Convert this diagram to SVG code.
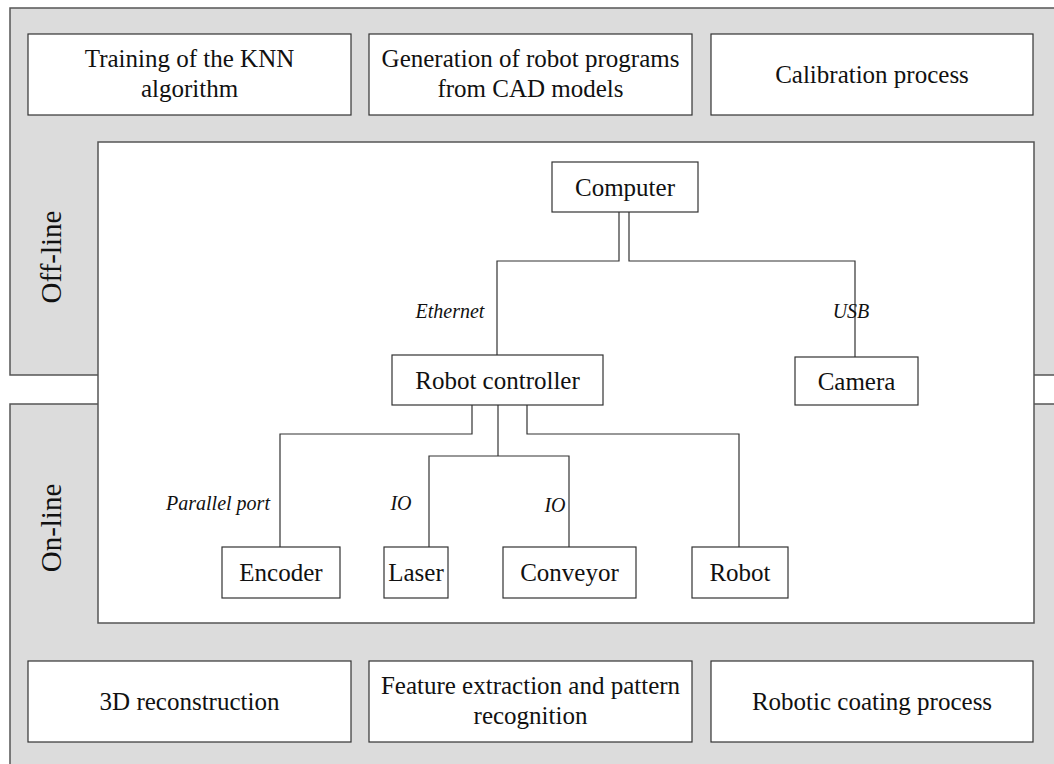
<svg xmlns="http://www.w3.org/2000/svg" width="1054" height="764" viewBox="0 0 1054 764">
<style>
.panel{fill:#dcdcdc;stroke:#555;stroke-width:1.5}
.inner{fill:#fff;stroke:#555;stroke-width:1.5}
.box{fill:#fff;stroke:#333;stroke-width:1.2}
.t{font-family:'Liberation Serif','Times New Roman',Times,Tinos,'Noto Serif','DejaVu Serif',serif;font-size:25px;fill:#111;text-anchor:middle}
.side{font-family:'Liberation Serif','Times New Roman',Times,Tinos,'Noto Serif','DejaVu Serif',serif;font-size:29px;fill:#111;text-anchor:middle}
.lbl{font-family:'Liberation Serif','Times New Roman',Times,Tinos,'Noto Serif','DejaVu Serif',serif;font-size:20px;font-style:italic;fill:#111;text-anchor:middle}
.c{fill:none;stroke:#333;stroke-width:1.2}
</style>
<rect width="1054" height="764" fill="#fff"/>
<g id="offline-panel">
<rect class="panel" x="10" y="8" width="1060" height="367"/>
<text class="side" transform="translate(61,257) rotate(-90)">Off-line</text>
</g>
<g id="online-panel">
<rect class="panel" x="10" y="404" width="1060" height="380"/>
<text class="side" transform="translate(61,528) rotate(-90)">On-line</text>
</g>
<g id="training">
<rect class="box" x="28" y="34" width="323" height="81"/>
<text class="t" x="189.5" y="67">Training of the KNN</text>
<text class="t" x="189.5" y="97">algorithm</text>
</g>
<g id="generation">
<rect class="box" x="369" y="34" width="323" height="81"/>
<text class="t" x="530.5" y="67">Generation of robot programs</text>
<text class="t" x="530.5" y="97">from CAD models</text>
</g>
<g id="calibration">
<rect class="box" x="711" y="34" width="322" height="81"/>
<text class="t" x="872" y="83">Calibration process</text>
</g>
<g id="system-panel">
<rect class="inner" x="98" y="142" width="936" height="481"/>
</g>
<g id="connectors">
<polyline class="c" points="619,212 619,261 497,261 497,355"/>
<polyline class="c" points="629,212 629,261 855,261 855,357"/>
<polyline class="c" points="472,405 472,434 280,434 280,547"/>
<polyline class="c" points="498,405 498,456"/>
<polyline class="c" points="429,547 429,456 569,456 569,547"/>
<polyline class="c" points="527,405 527,434 739,434 739,547"/>
<text class="lbl" x="450" y="318">Ethernet</text>
<text class="lbl" x="851" y="318">USB</text>
<text class="lbl" x="218" y="510">Parallel port</text>
<text class="lbl" x="401" y="510">IO</text>
<text class="lbl" x="555" y="512">IO</text>
</g>
<g id="computer">
<rect class="box" x="552" y="162" width="146" height="50"/>
<text class="t" x="625" y="196">Computer</text>
</g>
<g id="robot-controller">
<rect class="box" x="392" y="355" width="211" height="50"/>
<text class="t" x="497.5" y="389">Robot controller</text>
</g>
<g id="camera">
<rect class="box" x="795" y="357" width="123" height="48"/>
<text class="t" x="856.5" y="390">Camera</text>
</g>
<g id="encoder">
<rect class="box" x="222" y="547" width="118" height="51"/>
<text class="t" x="281" y="581">Encoder</text>
</g>
<g id="laser">
<rect class="box" x="384" y="547" width="64" height="51"/>
<text class="t" x="416" y="581">Laser</text>
</g>
<g id="conveyor">
<rect class="box" x="503" y="547" width="133" height="51"/>
<text class="t" x="569.5" y="581">Conveyor</text>
</g>
<g id="robot">
<rect class="box" x="692" y="547" width="96" height="51"/>
<text class="t" x="740" y="581">Robot</text>
</g>
<g id="reconstruction">
<rect class="box" x="28" y="661" width="323" height="81"/>
<text class="t" x="189.5" y="710">3D reconstruction</text>
</g>
<g id="feature-extraction">
<rect class="box" x="369" y="661" width="323" height="81"/>
<text class="t" x="530.5" y="694">Feature extraction and pattern</text>
<text class="t" x="530.5" y="724">recognition</text>
</g>
<g id="coating">
<rect class="box" x="711" y="661" width="322" height="81"/>
<text class="t" x="872" y="710">Robotic coating process</text>
</g>
</svg>
